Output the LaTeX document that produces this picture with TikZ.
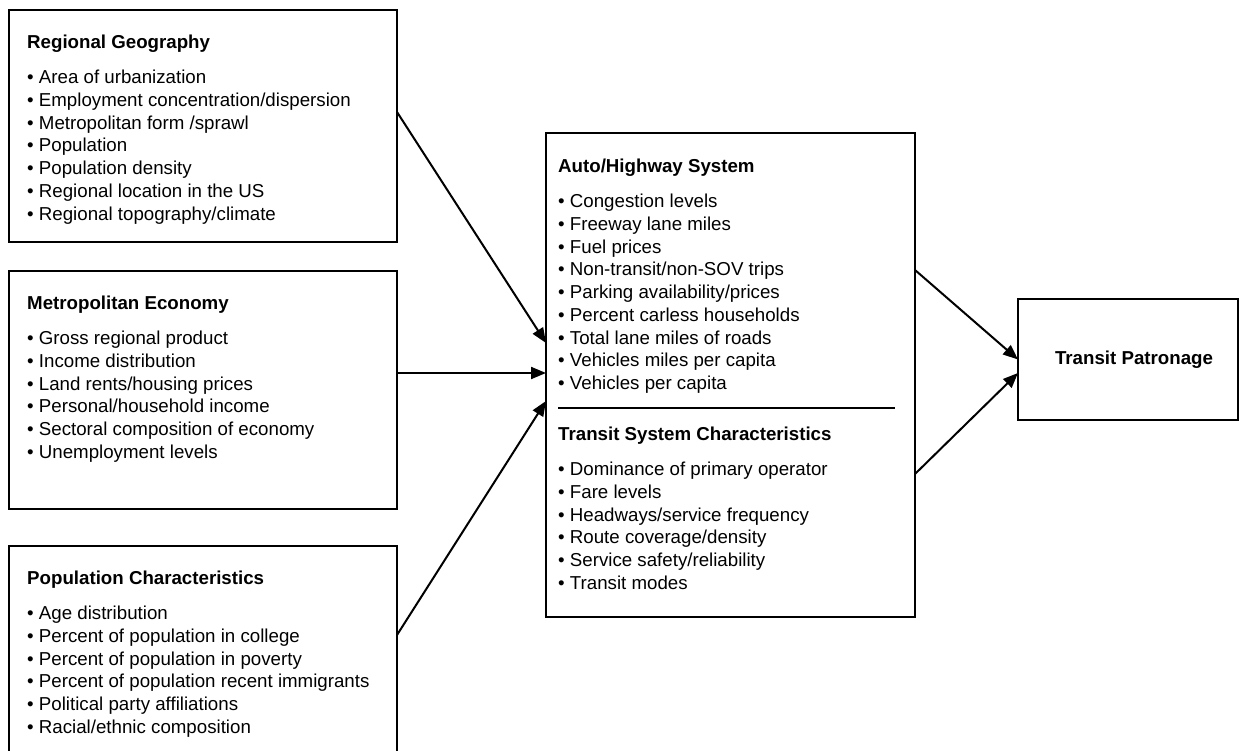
\documentclass[tikz,border=0pt]{standalone}
\usepackage{fontspec}
\setmainfont{Liberation Sans}
\usetikzlibrary{positioning,arrows.meta}

\tikzset{
  factor/.style={draw, line width=2pt, inner sep=0pt, outer sep=0pt, anchor=north west},
  list/.style={anchor=north west, inner sep=0pt, align=left,
    font=\fontsize{18.7}{22.7}\selectfont},
  link/.style={line width=2pt, -{Triangle[length=15pt,width=12pt]}}
}
\newcommand{\heading}[1]{\textbf{#1}\\[12.8pt]}

\begin{document}
\begin{tikzpicture}[x=1pt,y=-1pt]
\useasboundingbox (0,0) rectangle (1240,751);
\clip (0,0) rectangle (1240,751);

% boxes on the left
\node[factor, minimum width=388pt, minimum height=232pt] (geo) at (9,10) {};
\node[factor, minimum width=388pt, minimum height=238pt,
  below=29pt of geo.south west, anchor=north west] (econ) {};
\node[factor, minimum width=388pt, minimum height=250pt,
  below=37pt of econ.south west, anchor=north west] (pop) {};

% middle and right
\node[factor, minimum width=369pt, minimum height=484pt] (hwy) at (546,133) {};
\node[factor, minimum width=220pt, minimum height=121pt] (patr) at (1018,299) {};

\node[list] (geotxt) at ([xshift=18pt,yshift=-24.6pt]geo.north west) {%
  \heading{Regional Geography}
  • Area of urbanization\\
  • Employment concentration/dispersion\\
  • Metropolitan form /sprawl\\
  • Population\\
  • Population density\\
  • Regional location in the US\\
  • Regional topography/climate};
\node[list] (econtxt) at ([xshift=18pt,yshift=-24.6pt]econ.north west) {%
  \heading{Metropolitan Economy}
  • Gross regional product\\
  • Income distribution\\
  • Land rents/housing prices\\
  • Personal/household income\\
  • Sectoral composition of economy\\
  • Unemployment levels};
\node[list] (poptxt) at ([xshift=18pt,yshift=-24.6pt]pop.north west) {%
  \heading{Population Characteristics}
  • Age distribution\\
  • Percent of population in college\\
  • Percent of population in poverty\\
  • Percent of population recent immigrants\\
  • Political party affiliations\\
  • Racial/ethnic composition};

\node[list] (autotxt) at ([xshift=12pt,yshift=-25.6pt]hwy.north west) {%
  \heading{Auto/Highway System}
  • Congestion levels\\
  • Freeway lane miles\\
  • Fuel prices\\
  • Non-transit/non-SOV trips\\
  • Parking availability/prices\\
  • Percent carless households\\
  • Total lane miles of roads\\
  • Vehicles miles per capita\\
  • Vehicles per capita};
\coordinate (sepl) at (558,408);
\coordinate (sepr) at (895,408);
\draw[line width=2pt] (sepl) -- (sepr);
\node[list] (transtxt) at ([xshift=12pt,yshift=-293.6pt]hwy.north west) {%
  \heading{Transit System Characteristics}
  • Dominance of primary operator\\
  • Fare levels\\
  • Headways/service frequency\\
  • Route coverage/density\\
  • Service safety/reliability\\
  • Transit modes};

\node[list, anchor=center, font=\fontsize{18.7}{22.7}\selectfont\bfseries]
  (patrtxt) at ([xshift=6pt]patr.center) {Transit Patronage};

% arrows
\draw[link] ([yshift=14pt]geo.east) -- ([yshift=32pt]hwy.west);
\draw[link] ([yshift=17pt]econ.east) -- ([yshift=2pt]hwy.west);
\draw[link] ([yshift=36pt]pop.east) -- ([yshift=-26pt]hwy.west);
\draw[link] ([yshift=105pt]hwy.east) -- (patr.west);
\draw[link] ([yshift=-99pt]hwy.east) -- ([yshift=-13.5pt]patr.west);
\end{tikzpicture}
\end{document}
